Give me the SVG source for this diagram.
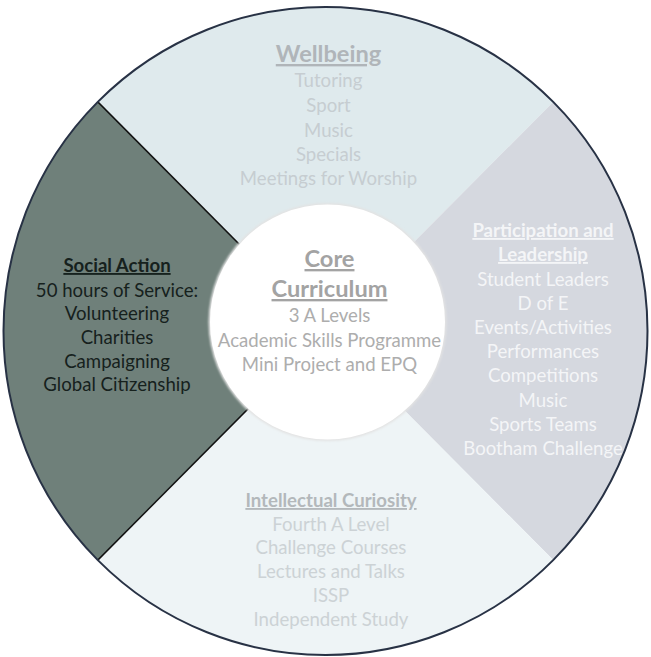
<svg xmlns="http://www.w3.org/2000/svg" width="651" height="657" viewBox="0 0 651 657">
<style>
.t{font-family:Lato,"Liberation Sans",sans-serif;font-size:18.6px;text-anchor:middle}
.h{font-weight:bold;text-decoration:underline}
.big{font-size:23.6px}
.wb{fill:#c6cdd1}.wbh{fill:#b0b5b9}
.sa{fill:#16211d}
.pl{fill:#f4f5f7}
.ic{fill:#ccd2d5}.ich{fill:#b3b8bb}
.cc{fill:#adadad}.cch{fill:#a3a3a3}
</style>
<defs>
<filter id="soft" x="-10%" y="-10%" width="120%" height="120%">
<feGaussianBlur stdDeviation="1.2"/>
</filter>
</defs>
<rect width="651" height="657" fill="#ffffff"/>
<g id="wellbeing">
<path d="M325.5,331 L97.8,101.9 A322,324 0 0 1 553.2,101.9 Z" fill="#dfeaed"/>
<text class="t big h wbh" x="328.5" y="62">Wellbeing</text>
<text class="t wb" x="328.5" y="87">Tutoring</text>
<text class="t wb" x="328.5" y="112">Sport</text>
<text class="t wb" x="328.5" y="137">Music</text>
<text class="t wb" x="328.5" y="161">Specials</text>
<text class="t wb" x="328.5" y="185">Meetings for Worship</text>
</g>
<g id="participation">
<path d="M325.5,331 L553.2,101.9 A322,324 0 0 1 553.2,560.1 Z" fill="#d5d8df"/>
<text class="t h pl" x="543" y="237">Participation and</text>
<text class="t h pl" x="543" y="261">Leadership</text>
<text class="t pl" x="543" y="285.5">Student Leaders</text>
<text class="t pl" x="543" y="310">D of E</text>
<text class="t pl" x="543" y="334">Events/Activities</text>
<text class="t pl" x="543" y="358">Performances</text>
<text class="t pl" x="543" y="382">Competitions</text>
<text class="t pl" x="543" y="406.5">Music</text>
<text class="t pl" x="543" y="431">Sports Teams</text>
<text class="t pl" x="543" y="455">Bootham Challenge</text>
</g>
<g id="intellectual">
<path d="M325.5,331 L553.2,560.1 A322,324 0 0 1 97.8,560.1 Z" fill="#eef4f6"/>
<text class="t h ich" x="331" y="507">Intellectual Curiosity</text>
<text class="t ic" x="331" y="531">Fourth A Level</text>
<text class="t ic" x="331" y="554">Challenge Courses</text>
<text class="t ic" x="331" y="578">Lectures and Talks</text>
<text class="t ic" x="331" y="602">ISSP</text>
<text class="t ic" x="331" y="626">Independent Study</text>
</g>
<g id="social">
<path d="M325.5,331 L97.8,560.1 A322,324 0 0 1 97.8,101.9 Z" fill="#6f807a"/>
<text class="t h sa" x="117" y="272">Social Action</text>
<text class="t sa" x="117" y="297">50 hours of Service:</text>
<text class="t sa" x="117" y="320">Volunteering</text>
<text class="t sa" x="117" y="344">Charities</text>
<text class="t sa" x="117" y="368">Campaigning</text>
<text class="t sa" x="117" y="391">Global Citizenship</text>
</g>
<g id="connectors" fill="none">
<line x1="97.8" y1="101.9" x2="325.5" y2="331" stroke="#111111" stroke-width="1.5"/>
<line x1="97.8" y1="560.1" x2="325.5" y2="331" stroke="#111111" stroke-width="1.5"/>
<ellipse cx="325.5" cy="331" rx="322" ry="324" stroke="#283245" stroke-width="2"/>
</g>
<g id="core">
<circle cx="327.5" cy="322" r="119" fill="#e3e3e3" filter="url(#soft)"/>
<circle cx="327.5" cy="322" r="117.5" fill="#ffffff"/>
<text class="t big h cch" x="329.5" y="267">Core</text>
<text class="t big h cch" x="329.5" y="297">Curriculum</text>
<text class="t cc" x="329.5" y="322">3 A Levels</text>
<text class="t cc" x="329.5" y="347">Academic Skills Programme</text>
<text class="t cc" x="329.5" y="371">Mini Project and EPQ</text>
</g>
</svg>
